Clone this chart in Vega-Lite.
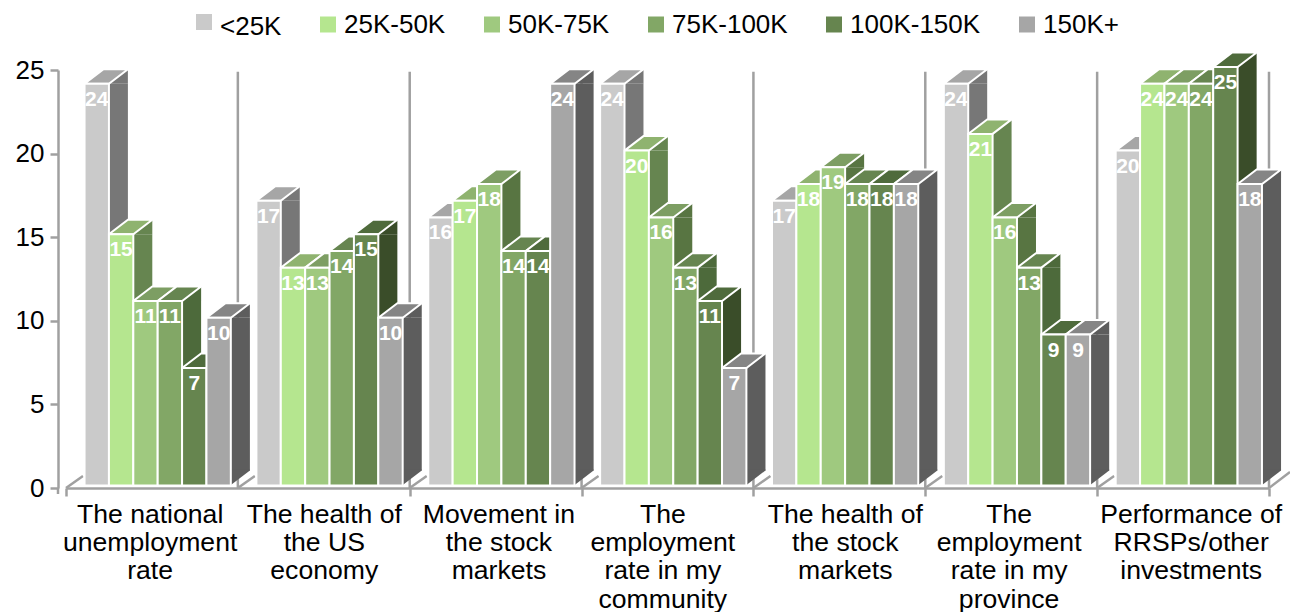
{"$schema":"https://vega.github.io/schema/vega-lite/v6.json","width":1203,"height":418,"autosize":"none","padding":{"left":66,"top":70,"right":21,"bottom":124},"background":"white","config":{"view":{"stroke":null},"font":"Liberation Sans"},
"datasets":{
"bars":[
{"cat":"The national unemployment rate","series":"<25K","value":24},{"cat":"The national unemployment rate","series":"25K-50K","value":15},{"cat":"The national unemployment rate","series":"50K-75K","value":11},{"cat":"The national unemployment rate","series":"75K-100K","value":11},{"cat":"The national unemployment rate","series":"100K-150K","value":7},{"cat":"The national unemployment rate","series":"150K+","value":10},
{"cat":"The health of the US economy","series":"<25K","value":17},{"cat":"The health of the US economy","series":"25K-50K","value":13},{"cat":"The health of the US economy","series":"50K-75K","value":13},{"cat":"The health of the US economy","series":"75K-100K","value":14},{"cat":"The health of the US economy","series":"100K-150K","value":15},{"cat":"The health of the US economy","series":"150K+","value":10},
{"cat":"Movement in the stock markets","series":"<25K","value":16},{"cat":"Movement in the stock markets","series":"25K-50K","value":17},{"cat":"Movement in the stock markets","series":"50K-75K","value":18},{"cat":"Movement in the stock markets","series":"75K-100K","value":14},{"cat":"Movement in the stock markets","series":"100K-150K","value":14},{"cat":"Movement in the stock markets","series":"150K+","value":24},
{"cat":"The employment rate in my community","series":"<25K","value":24},{"cat":"The employment rate in my community","series":"25K-50K","value":20},{"cat":"The employment rate in my community","series":"50K-75K","value":16},{"cat":"The employment rate in my community","series":"75K-100K","value":13},{"cat":"The employment rate in my community","series":"100K-150K","value":11},{"cat":"The employment rate in my community","series":"150K+","value":7},
{"cat":"The health of the stock markets","series":"<25K","value":17},{"cat":"The health of the stock markets","series":"25K-50K","value":18},{"cat":"The health of the stock markets","series":"50K-75K","value":19},{"cat":"The health of the stock markets","series":"75K-100K","value":18},{"cat":"The health of the stock markets","series":"100K-150K","value":18},{"cat":"The health of the stock markets","series":"150K+","value":18},
{"cat":"The employment rate in my province","series":"<25K","value":24},{"cat":"The employment rate in my province","series":"25K-50K","value":21},{"cat":"The employment rate in my province","series":"50K-75K","value":16},{"cat":"The employment rate in my province","series":"75K-100K","value":13},{"cat":"The employment rate in my province","series":"100K-150K","value":9},{"cat":"The employment rate in my province","series":"150K+","value":9},
{"cat":"Performance of RRSPs/other investments","series":"<25K","value":20},{"cat":"Performance of RRSPs/other investments","series":"25K-50K","value":24},{"cat":"Performance of RRSPs/other investments","series":"50K-75K","value":24},{"cat":"Performance of RRSPs/other investments","series":"75K-100K","value":24},{"cat":"Performance of RRSPs/other investments","series":"100K-150K","value":25},{"cat":"Performance of RRSPs/other investments","series":"150K+","value":18}
]},
"data":{"name":"bars"},
"encoding":{
"x":{"field":"cat","type":"nominal","title":null,"sort":null,"scale":{"domain":["The national unemployment rate","The health of the US economy","Movement in the stock markets","The employment rate in my community","The health of the stock markets","The employment rate in my province","Performance of RRSPs/other investments"],"paddingInner":0,"paddingOuter":0},
"axis":{"tickBand":"extent","domainColor":"#a0a0a0","domainWidth":2.5,"tickColor":"#a0a0a0","tickWidth":2.5,"tickSize":8,"tickOpacity":{"condition":{"test":"datum.value=='The national unemployment rate' && !datum.extra","value":0},"value":1},"labelAngle":0,"labelAlign":"center","labelBaseline":"top","labelFontSize":26.6,"labelColor":"#000","labelPadding":5,"labelLimit":400,"labelOverlap":false,"labelFlush":false,
"labelExpr":"{'The national unemployment rate':['The national','unemployment','rate'],'The health of the US economy':['The health of','the US','economy'],'Movement in the stock markets':['Movement in','the stock','markets'],'The employment rate in my community':['The','employment','rate in my','community'],'The health of the stock markets':['The health of','the stock','markets'],'The employment rate in my province':['The','employment','rate in my','province'],'Performance of RRSPs/other investments':['Performance of','RRSPs/other','investments']}[datum.value]",
"encoding":{"labels":{"lineHeight":{"value":28.4},"dx":{"value":{"signal":"{'The national unemployment rate':-2.3,'The health of the US economy':0,'Movement in the stock markets':2.8,'The employment rate in my community':-5.2,'The health of the stock markets':5.4,'The employment rate in my province':-2.6,'Performance of RRSPs/other investments':7.6}[datum.value]"}}}}}},
"y":{"field":"value","type":"quantitative","stack":null,"title":null,"scale":{"domain":[0,25],"nice":false},
"axis":{"values":[0,5,10,15,20,25],"grid":false,"offset":8,"domainColor":"#a0a0a0","domainWidth":2.5,"tickColor":"#a0a0a0","tickWidth":2.5,"tickSize":8,"labelFontSize":26,"labelColor":"#000","labelPadding":6}}
},
"layer":[
{"transform":[{"filter":"datum.series=='<25K'"}],"mark":{"type":"rule","color":"#a0a0a0","strokeWidth":2.5},"encoding":{"x":{"field":"cat","type":"nominal","bandPosition":1,"sort":null},"y":{"datum":24.9,"type":"quantitative"},"y2":{"datum":0}}},
{"transform":[{"filter":"datum.series=='<25K' && datum.cat=='The national unemployment rate'"}],"mark":{"type":"point","size":4,"filled":false,"opacity":1,"stroke":"#a0a0a0","strokeWidth":2.5,"shape":"M-8 0 L-8 6"},"encoding":{"x":{"field":"cat","type":"nominal","bandPosition":0,"sort":null},"y":{"datum":0,"type":"quantitative"}}},
{"transform":[{"filter":"datum.series=='<25K'"}],"mark":{"type":"point","size":4,"filled":false,"opacity":1,"stroke":"#a0a0a0","strokeWidth":2.5,"shape":"M0 0 L17 -12"},"encoding":{"x":{"field":"cat","type":"nominal","bandPosition":0,"sort":null},"y":{"datum":0,"type":"quantitative"}}},
{"transform":[{"filter":"datum.series=='<25K' && datum.cat=='Performance of RRSPs/other investments'"}],"mark":{"type":"point","size":4,"filled":false,"opacity":1,"stroke":"#a0a0a0","strokeWidth":2.5,"shape":"M0 0 L21 -16"},"encoding":{"x":{"field":"cat","type":"nominal","bandPosition":1,"sort":null},"y":{"datum":0,"type":"quantitative"}}},
{"mark":{"type":"rule","strokeWidth":19,"yOffset":-3},"encoding":{"xOffset":{"field":"series","type":"nominal","sort":null,"scale":{"domain":["<25K","25K-50K","50K-75K","75K-100K","100K-150K","150K+"],"range":[40.2,186.6]}},"y2":{"datum":1.047},"color":{"field":"series","type":"nominal","legend":null,"scale":{"domain":["<25K","25K-50K","50K-75K","75K-100K","100K-150K","150K+"],"range":["#777777","#668550","#587542","#4d6a3b","#3a4d29","#5d5d5d"]}}}},
{"mark":{"type":"point","size":4,"filled":true,"opacity":1,"strokeWidth":0,"shape":"M12.2 -3 L31.2 -3 L31.2 -17.5 Z"},"encoding":{"xOffset":{"field":"series","type":"nominal","sort":null,"scale":{"domain":["<25K","25K-50K","50K-75K","75K-100K","100K-150K","150K+"],"range":[18.5,164.9]}},"color":{"field":"series","type":"nominal","legend":null,"scale":{"domain":["<25K","25K-50K","50K-75K","75K-100K","100K-150K","150K+"],"range":["#777777","#668550","#587542","#4d6a3b","#3a4d29","#5d5d5d"]}}}},
{"mark":{"type":"point","size":4,"filled":true,"opacity":1,"strokeWidth":0,"shape":"M12.2 -3 L31.2 -17.5 L31.2 -18.5 L12.2 -18.5 Z"},"encoding":{"xOffset":{"field":"series","type":"nominal","sort":null,"scale":{"domain":["<25K","25K-50K","50K-75K","75K-100K","100K-150K","150K+"],"range":[18.5,164.9]}},"y":{"datum":0,"type":"quantitative"},"color":{"field":"series","type":"nominal","legend":null,"scale":{"domain":["<25K","25K-50K","50K-75K","75K-100K","100K-150K","150K+"],"range":["#777777","#668550","#587542","#4d6a3b","#3a4d29","#5d5d5d"]}}}},
{"mark":{"type":"point","size":4,"filled":true,"opacity":1,"stroke":"white","strokeWidth":2,"shape":"M-12.2 -3 L12.2 -3 L31.2 -17.5 L6.8 -17.5 Z"},"encoding":{"xOffset":{"field":"series","type":"nominal","sort":null,"scale":{"domain":["<25K","25K-50K","50K-75K","75K-100K","100K-150K","150K+"],"range":[18.5,164.9]}},"color":{"field":"series","type":"nominal","legend":null,"scale":{"domain":["<25K","25K-50K","50K-75K","75K-100K","100K-150K","150K+"],"range":["#a6a6a6","#8fb36f","#7d9e63","#668550","#4f6b3c","#858585"]}}}},
{"mark":{"type":"bar","stroke":"white","strokeWidth":2,"yOffset":-3},"encoding":{"xOffset":{"field":"series","type":"nominal","sort":null,"scale":{"domain":["<25K","25K-50K","50K-75K","75K-100K","100K-150K","150K+"],"paddingInner":0,"paddingOuter":0.525,"align":0.725}},"y2":{"datum":0.15},"color":{"field":"series","type":"nominal","title":null,"scale":{"domain":["<25K","25K-50K","50K-75K","75K-100K","100K-150K","150K+"],"range":["#cacaca","#b5e68f","#9fc97f","#82a766","#66854f","#a6a6a6"]},
"legend":{"orient":"none","legendX":125,"legendY":-61,"direction":"horizontal","columns":6,"columnPadding":33,"symbolType":"square","symbolSize":256,"symbolStrokeWidth":0,"labelFontSize":26,"labelColor":"#000","labelOffset":3,"labelLimit":300,"encoding":{"labels":{"dy":{"value":{"signal":"datum.value=='<25K'?5:0"}}}}}}}},
{"mark":{"type":"text","color":"white","fontWeight":"bold","fontSize":21,"baseline":"middle","align":"center","dy":13},"encoding":{"xOffset":{"field":"series","type":"nominal","sort":null,"scale":{"domain":["<25K","25K-50K","50K-75K","75K-100K","100K-150K","150K+"],"range":[18.5,164.9]}},"text":{"field":"value","type":"quantitative"}}}
],
"resolve":{"scale":{"color":"independent","xOffset":"independent"}}
}
